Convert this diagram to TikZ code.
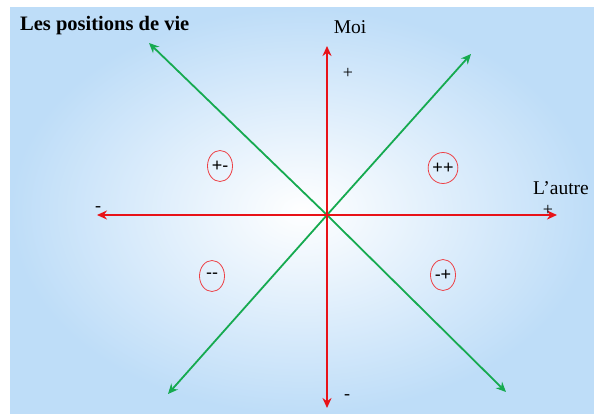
\documentclass[tikz,border=0pt]{standalone}
\usepackage{fontspec}
\setmainfont{Liberation Serif}
\newfontfamily\arialf{Liberation Sans}
\usetikzlibrary{arrows.meta,shapes.geometric}
\definecolor{axred}{RGB}{232,18,24}
\definecolor{axgreen}{RGB}{22,170,80}
\definecolor{skyblue}{RGB}{190,221,248}
\begin{document}
\begin{tikzpicture}[x=1pt,y=-1pt,
  redarrow/.style={draw=axred,line width=1.8pt,-{Stealth[length=10pt,width=9pt]}},
  greenarrow/.style={draw=axgreen,line width=1.8pt,-{Stealth[length=10pt,width=9pt]}},
  zone/.style={draw=axred!80,line width=0.8pt,ellipse,minimum width=25pt,minimum height=31pt,inner sep=0pt,font=\arialf\fontsize{18}{18}\selectfont},
  lbl/.style={inner sep=0pt,font=\fontsize{19.5}{19.5}\selectfont},
  sign/.style={inner sep=0pt,font=\fontsize{18}{18}\selectfont}]
\useasboundingbox (0,0) rectangle (594,414);
\shade[inner color=white,outer color=skyblue] (10,8) rectangle (594,414);
\coordinate (o) at (327,215);
\coordinate (top) at (327,46);
\coordinate (bot) at (327,408);
\coordinate (lft) at (97,215);
\coordinate (rgt) at (557,215);
\coordinate (tl) at (149,43);
\coordinate (tr) at (471,54);
\coordinate (bl) at (168,394);
\coordinate (br) at (506,392);
\draw[greenarrow] (o) -- (tl);
\draw[greenarrow] (o) -- (tr);
\draw[greenarrow] (o) -- (bl);
\draw[greenarrow] (o) -- (br);
\draw[redarrow] (o) -- (top);
\draw[redarrow] (o) -- (bot);
\draw[redarrow] (o) -- (lft);
\draw[redarrow] (o) -- (rgt);
\node[anchor=base west,inner sep=0pt,font=\bfseries\fontsize{20.5}{20.5}\selectfont] (title) at (20,31) {Les positions de vie};
\node[lbl] (moi) at (350,27) {Moi};
\node[lbl] (autre) at (561,188) {L'autre};
\node[sign] (pt) at (348,73) {+};
\node[sign] (pr) at (548,210) {+};
\node[sign] (ml) at (98,209) {-};
\node[sign] (mb) at (347,397) {-};
\node[zone] (pm) at (220,166) {+-};
\node[zone] (pp) at (443,168) {++};
\node[zone] (mm) at (212,276) {--};
\node[zone] (mp) at (443,275) {-+};
\end{tikzpicture}
\end{document}
